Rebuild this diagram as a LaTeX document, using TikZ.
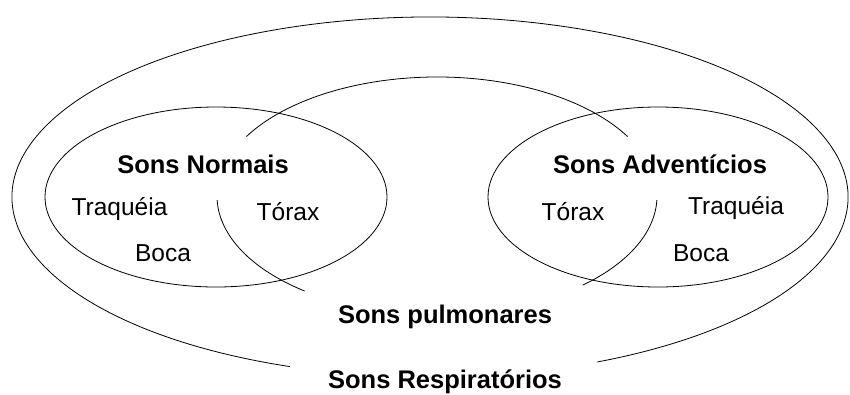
\documentclass[tikz,border=0pt]{standalone}
\usepackage{fontspec}
\setmainfont{Liberation Sans}
\begin{document}
\begin{tikzpicture}[x=1pt,y=-1pt,
  curve/.style={draw=black,line width=0.8pt},
  title/.style={inner sep=0pt,anchor=base,font=\fontsize{25.5}{30}\selectfont\bfseries},
  item/.style={inner sep=0pt,anchor=base,font=\fontsize{24.5}{29}\selectfont}]
\useasboundingbox (0,0) rectangle (850,394);

% outer set: respiratory sounds (open at the bottom for its label)
\draw[curve] ([shift={(109.6:418 and 180)}]430,197)
  arc[start angle=109.6,end angle=426.4,x radius=418,y radius=180];

% middle set: pulmonary sounds (interrupted by the labels)
\draw[curve] ([shift={(210:220 and 119)}]437,196)
  arc[start angle=210,end angle=330,x radius=220,y radius=119];
\draw[curve] ([shift={(178:220 and 119)}]437,196)
  arc[start angle=178,end angle=127,x radius=220,y radius=119];
\draw[curve] ([shift={(2:220 and 119)}]437,196)
  arc[start angle=2,end angle=48.5,x radius=220,y radius=119];

% inner sets
\draw[curve] (216,197) ellipse[x radius=171,y radius=90];
\draw[curve] (658,197) ellipse[x radius=170,y radius=90];

% labels
\node[title] (normais) at (203,173) {Sons Normais};
\node[item] (traqL) at (119.5,215) {Traquéia};
\node[item] (toraxL) at (288,220) {Tórax};
\node[item] (bocaL) at (163,261) {Boca};

\node[title] (advent) at (660,173) {Sons Adventícios};
\node[item] (toraxR) at (573,220) {Tórax};
\node[item] (traqR) at (736,214) {Traquéia};
\node[item] (bocaR) at (701,261) {Boca};

\node[title] (pulm) at (445,323) {Sons pulmonares};
\node[title] (resp) at (445,388) {Sons Respiratórios};
\end{tikzpicture}
\end{document}
